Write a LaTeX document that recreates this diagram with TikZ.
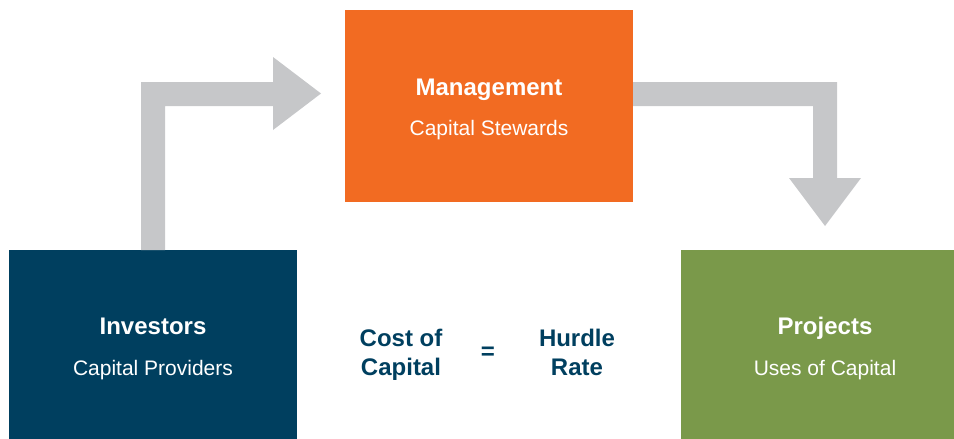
\documentclass[tikz,border=0pt]{standalone}
\usepackage{fontspec}
\setmainfont{Liberation Sans}
\definecolor{navy}{HTML}{003F5F}
\definecolor{orng}{HTML}{F26B22}
\definecolor{grn}{HTML}{7A994A}
\definecolor{arrgray}{HTML}{C6C7C9}
\tikzset{
  ttl/.style={text=white, inner sep=0pt, anchor=base, font=\fontsize{24}{26}\selectfont\bfseries},
  sub/.style={text=white, inner sep=0pt, anchor=base, font=\fontsize{21}{24}\selectfont},
  eq/.style={text=navy, inner sep=0pt, anchor=base, font=\fontsize{24}{29}\selectfont\bfseries},
  flow/.style={fill=arrgray, draw=none}
}
\begin{document}
\begin{tikzpicture}[x=1pt,y=-1pt]
\useasboundingbox (0,0) rectangle (954,439);
% boxes
\fill[navy] (9,250) rectangle (297,439);
\fill[orng] (345,10) rectangle (633,202);
\fill[grn] (681,250) rectangle (954,439);
% arrows
\fill[flow] (141,250) -- (141,82) -- (273,82) -- (273,57) -- (321,93.5) -- (273,130) -- (273,106) -- (165,106) -- (165,250) -- cycle;
\fill[flow] (633,82) -- (837,82) -- (837,178) -- (861,178) -- (825,226) -- (789,178) -- (813,178) -- (813,106) -- (633,106) -- cycle;
% texts
\node[ttl] (mt) at (489,95) {Management};
\node[sub] (ms) at (489,135.5) {Capital Stewards};
\node[ttl] (it) at (153,334) {Investors};
\node[sub] (is) at (153,375.5) {Capital Providers};
\node[ttl] (pt) at (825,334) {Projects};
\node[sub] (ps) at (825,375.5) {Uses of Capital};
\node[eq] (coc1) at (401,346.7) {Cost of};
\node[eq] (coc2) at (401,375) {Capital};
\node[eq, anchor=center] (eqs) at (488,353) {=};
\node[eq] (hr1) at (577,346.7) {Hurdle};
\node[eq] (hr2) at (577,375) {Rate};
\end{tikzpicture}
\end{document}
